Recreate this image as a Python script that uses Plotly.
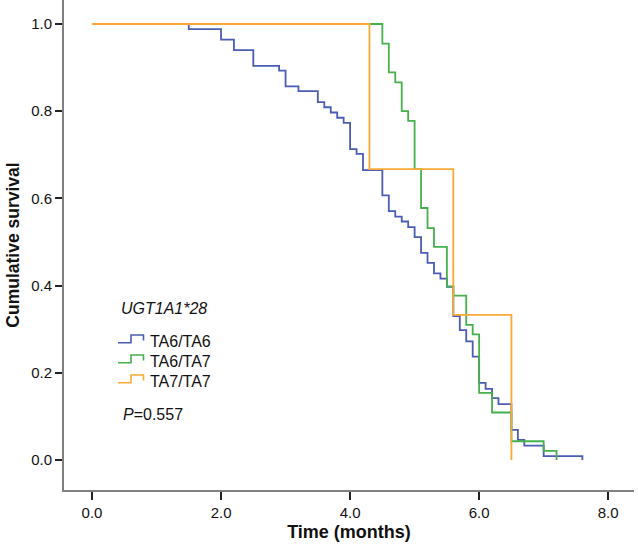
import plotly.graph_objects as go

# ---- data ----
blue_times = [1.5, 2.0, 2.2, 2.5, 2.9, 3.0, 3.2, 3.5, 3.6, 3.7, 3.8, 3.9, 4.0, 4.1, 4.2,
              4.5, 4.6, 4.7, 4.8, 4.9, 5.0, 5.1, 5.2, 5.3, 5.4, 5.5, 5.6, 5.7, 5.8, 5.9,
              6.0, 6.1, 6.2, 6.3, 6.5, 6.6, 6.7, 7.0, 7.6]
blue_surv = [0.988, 0.964, 0.940, 0.904, 0.893, 0.857, 0.846, 0.821, 0.809, 0.797, 0.785,
             0.773, 0.713, 0.702, 0.665, 0.607, 0.571, 0.558, 0.547, 0.534, 0.511, 0.475,
             0.452, 0.428, 0.416, 0.397, 0.330, 0.298, 0.272, 0.237, 0.177, 0.163, 0.142,
             0.128, 0.069, 0.046, 0.033, 0.009, 0.0]

green_times = [4.5, 4.6, 4.7, 4.8, 4.9, 5.0, 5.1, 5.2, 5.3, 5.5, 5.6, 5.8, 5.9, 6.0, 6.2,
               6.5, 7.0, 7.2]
green_surv = [0.955, 0.889, 0.866, 0.800, 0.778, 0.667, 0.578, 0.532, 0.489, 0.398, 0.377,
              0.310, 0.288, 0.154, 0.109, 0.043, 0.021, 0.0]

orange_times = [4.3, 5.6, 6.5]
orange_surv = [0.667, 0.333, 0.0]

group_names = ["TA6/TA6", "TA6/TA7", "TA7/TA7"]
group_colors = ["#4A5DB5", "#45B04C", "#F8A936"]

x_tick_vals = [0, 2, 4, 6, 8]
x_tick_text = ["0.0", "2.0", "4.0", "6.0", "8.0"]
y_tick_vals = [0.0, 0.2, 0.4, 0.6, 0.8, 1.0]
y_tick_text = ["0.0", "0.2", "0.4", "0.6", "0.8", "1.0"]

legend_title = "UGT1A1*28"
p_text = "<i>P</i>=0.557"

FONT = "Liberation Sans, Arial, sans-serif"
W, H = 638, 549
M_L, M_R, M_T, M_B = 64, 4, 0, 59
PW, PH = W - M_L - M_R, H - M_T - M_B


def px2paper(px, py):
    return (px - M_L) / PW, (H - M_B - py) / PH


fig = go.Figure()
series = [(blue_times, blue_surv), (green_times, green_surv), (orange_times, orange_surv)]
for (t, s), name, col in zip(series, group_names, group_colors):
    fig.add_trace(go.Scatter(
        x=[0] + t, y=[1.0] + s, mode="lines", line_shape="hv",
        line=dict(color=col, width=1.8), name=name, showlegend=False,
        hoverinfo="x+y+name"))

# custom legend (step icons + labels)
annotations = []
shapes = []
x0, y0 = px2paper(119, 308)
annotations.append(dict(x=x0, y=y0, xref="paper", yref="paper", text="<i>" + legend_title + "</i>",
                        showarrow=False, xanchor="left", yanchor="middle",
                        font=dict(family=FONT, size=16, color="#111")))
for i, (name, col) in enumerate(zip(group_names, group_colors)):
    off = 20 * i
    pts = [(118, 342.7 + off), (131, 342.7 + off), (131, 335 + off), (143.5, 335 + off),
           (143.5, 340.5 + off)]
    path = ""
    for j, (a, b) in enumerate(pts):
        xa, yb = px2paper(a, b)
        path += ("M" if j == 0 else "L") + f"{xa:.5f},{yb:.5f} "
    shapes.append(dict(type="path", path=path.strip(), xref="paper", yref="paper",
                       line=dict(color=col, width=1.6)))
    tx, ty = px2paper(148, 341 + off)
    annotations.append(dict(x=tx, y=ty, xref="paper", yref="paper", text=name, showarrow=False,
                            xanchor="left", yanchor="middle",
                            font=dict(family=FONT, size=16, color="#111")))
px_, py_ = px2paper(121, 414)
annotations.append(dict(x=px_, y=py_, xref="paper", yref="paper", text=p_text, showarrow=False,
                        xanchor="left", yanchor="middle",
                        font=dict(family=FONT, size=16, color="#111")))

fig.update_layout(
    width=W, height=H,
    margin=dict(l=M_L, r=M_R, t=M_T, b=M_B),
    paper_bgcolor="white", plot_bgcolor="white",
    showlegend=False,
    annotations=annotations, shapes=shapes,
    font=dict(family=FONT, color="#111"),
)
fig.update_xaxes(
    range=[-0.434, 8.4], tickvals=x_tick_vals, ticktext=x_tick_text,
    showline=True, linecolor="#808080", linewidth=2, showgrid=False, zeroline=False,
    ticks="outside", ticklen=8, tickwidth=2, tickcolor="#222",
    tickfont=dict(family=FONT, size=15, color="#111"),
    title=dict(text="<b>Time (months)</b>", font=dict(family=FONT, size=18, color="#111"),
               standoff=5),
    automargin=False,
)
fig.update_yaxes(
    range=[-0.0688, 1.055], tickvals=y_tick_vals, ticktext=y_tick_text,
    showline=True, linecolor="#808080", linewidth=2, showgrid=False, zeroline=False,
    ticks="outside", ticklen=7, tickwidth=2, tickcolor="#222",
    tickfont=dict(family=FONT, size=15, color="#111"),
    title=dict(text="<b>Cumulative survival</b>", font=dict(family=FONT, size=17.5, color="#111"),
               standoff=7),
    automargin=False,
)

fig.write_html("out.html", config={"displayModeBar": False},
               post_script="document.body.style.margin='0px';")
